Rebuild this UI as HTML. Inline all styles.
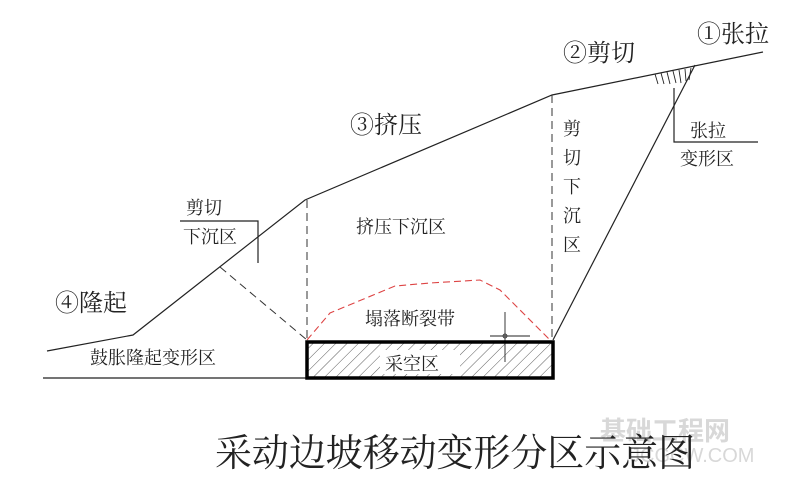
<!DOCTYPE html>
<html><head><meta charset="utf-8"><style>
body{margin:0;background:#fff;}
svg text{font-family:"Liberation Serif","Noto Serif CJK SC","Noto Sans CJK SC",serif;fill:#222;}
</style></head><body>
<svg width="800" height="474" viewBox="0 0 800 474" xmlns="http://www.w3.org/2000/svg">
<defs>
<pattern id="h" width="8" height="8" patternUnits="userSpaceOnUse" patternTransform="rotate(45)">
<line x1="0" y1="0" x2="0" y2="8" stroke="#333" stroke-width="0.8"/>
</pattern>
</defs>
<g stroke="#222" stroke-width="1.2" fill="none">
<polyline points="47,351 133,335 305,200 552,95 763,52"/>
<line x1="43" y1="378" x2="307" y2="378"/>
<line x1="553" y1="340" x2="695" y2="65"/>
<polyline points="674,88 674,142 758,142"/>
<polyline points="180,221 258,221 258,263"/>
<g stroke-width="0.9">
<path d="M655,74 l3,10 M661,73 l3,11 M667,72 l3,12 M673,71 l3,12 M679,70 l2,13 M685,69 l1,12 M691,68 l-2,12"/>
</g>
<line x1="490" y1="336" x2="530" y2="336" stroke-width="0.9"/>
<line x1="505" y1="312" x2="505" y2="362" stroke-width="0.9"/>
<circle cx="505" cy="336" r="2" stroke-width="0.8"/>
</g>
<g stroke="#333" stroke-width="1" fill="none" stroke-dasharray="8,5">
<line x1="307" y1="200" x2="307" y2="340"/>
<line x1="552" y1="95" x2="552" y2="340"/>
<line x1="220" y1="267" x2="307" y2="340"/>
</g>
<polyline points="307,340 330,313 395,286 430,283 480,280 500,290 550,340" fill="none" stroke="#d44" stroke-width="1.1" stroke-dasharray="7,4"/>
<rect x="307" y="342" width="246" height="36" fill="url(#h)" stroke="#000" stroke-width="3.5"/>
<rect x="380" y="350" width="80" height="24" fill="#fff"/>
<g font-size="24">
<text x="697" y="42">①张拉</text>
<text x="563" y="61">②剪切</text>
<text x="350" y="133">③挤压</text>
<text x="55" y="311">④隆起</text>
</g>
<g font-size="18">
<text x="186" y="214">剪切</text>
<text x="183" y="243">下沉区</text>
<text x="356" y="233">挤压下沉区</text>
<text x="563" y="135">剪</text>
<text x="563" y="164">切</text>
<text x="563" y="193">下</text>
<text x="563" y="222">沉</text>
<text x="563" y="251">区</text>
<text x="690" y="137">张拉</text>
<text x="680" y="165">变形区</text>
<text x="90" y="364">鼓胀隆起变形区</text>
<text x="365" y="325">塌落断裂带</text>
<text x="385" y="370">采空区</text>
</g>
<text x="600" y="440" font-size="26" style="fill:#d8d8d8;font-family:'Liberation Sans','Noto Sans CJK SC',sans-serif;font-weight:bold">基础工程网</text>
<text x="630" y="462" font-size="20" style="fill:#d8d8d8;font-family:'Liberation Sans',sans-serif">JCGCW.COM</text>
<text x="215" y="466" font-size="38" textLength="480" lengthAdjust="spacingAndGlyphs">采动边坡移动变形分区示意图</text>
</svg>
</body></html>
